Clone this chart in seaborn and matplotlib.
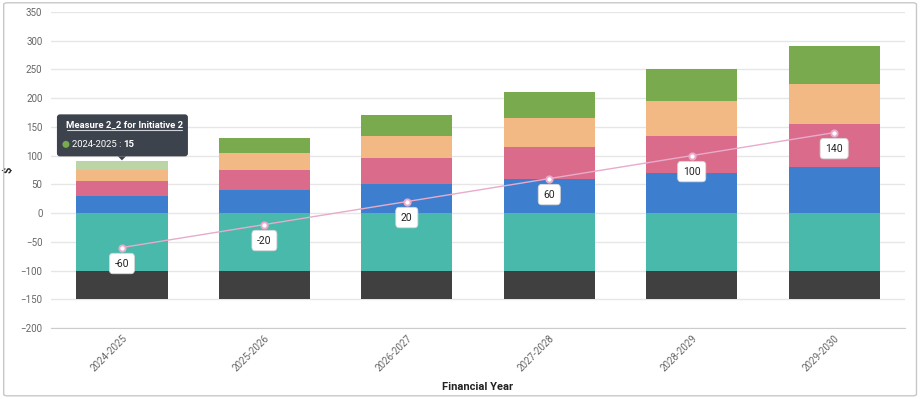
import numpy as np
import seaborn as sns
import matplotlib.pyplot as plt
from matplotlib.patches import FancyBboxPatch, Circle
from matplotlib.lines import Line2D
from matplotlib.transforms import IdentityTransform

sns.set_style("white")
plt.rcParams['font.family'] = ['Roboto', 'DejaVu Sans']

years = ['2024-2025', '2025-2026', '2026-2027', '2027-2028', '2028-2029', '2029-2030']
# positive stack, bottom to top
blue = [30, 40, 50, 60, 70, 80]
pink = [25, 35, 45, 55, 65, 75]
orange = [20, 30, 40, 50, 60, 70]
green = [15, 25, 35, 45, 55, 65]
# negative stack, top to bottom
teal = [-100, -100, -100, -100, -100, -100]
dark = [-50, -50, -50, -50, -50, -50]
net_total = [-60, -20, 20, 60, 100, 140]

c_blue, c_pink, c_orange, c_green = '#3d7ecf', '#db6b8b', '#f3b985', '#7aaa4e'
c_teal, c_dark = '#48b9ab', '#404040'
c_green_faded = '#bcd5a6'
c_line = '#e8abcb'

fig = plt.figure(figsize=(9.22, 3.99), dpi=100)
ax = fig.add_axes([0.055, 0.178, 0.927, 0.792])

pos_layers = [blue, pink, orange, green]
pos_cols = [c_blue, c_pink, c_orange, c_green]
cum_pos = np.cumsum(pos_layers, axis=0)
cum_neg = np.cumsum([teal, dark], axis=0)

# tallest first so shorter ones cover them
for k in range(3, -1, -1):
    if k == 3:
        sns.barplot(x=years, y=cum_pos[k], hue=years, legend=False, ax=ax, width=0.64,
                    palette=[c_green_faded] + [c_green] * 5, saturation=1, linewidth=0)
    else:
        sns.barplot(x=years, y=cum_pos[k], color=pos_cols[k], ax=ax, width=0.64,
                    saturation=1, linewidth=0)
sns.barplot(x=years, y=cum_neg[1], color=c_dark, ax=ax, width=0.64, saturation=1, linewidth=0)
sns.barplot(x=years, y=cum_neg[0], color=c_teal, ax=ax, width=0.64, saturation=1, linewidth=0)

sns.lineplot(x=np.arange(len(years)), y=net_total, ax=ax, color=c_line, lw=1,
             marker='o', markersize=4.5, markerfacecolor='white', markeredgecolor=c_line,
             markeredgewidth=1.4, zorder=5)
for i, v in enumerate(net_total):
    ax.annotate(str(v), (i, v), xytext=(0, -11.5), textcoords='offset points',
                ha='center', va='center', fontsize=7.5, color='#222222', zorder=6,
                bbox=dict(boxstyle='round,pad=0.5,rounding_size=0.35', fc='white',
                          ec='#d8d8d8', lw=0.6))

ax.set_ylim(-200, 350)
ax.set_xlim(-0.5, 5.5)
ax.set_yticks(np.arange(-200, 351, 50))
ax.yaxis.grid(True, color='#e6e6e6', lw=1)
ax.set_axisbelow(True)
for s in ['left', 'right', 'top']:
    ax.spines[s].set_visible(False)
ax.spines['bottom'].set_color('#cccccc')
ax.tick_params(axis='both', length=0, labelsize=7, labelcolor='#666666')
ax.tick_params(axis='y', pad=6)
plt.setp(ax.get_xticklabels(), rotation=45, ha='right', rotation_mode='anchor')
ax.set_xlabel('Financial Year', fontsize=8, fontweight='bold', color='#222222', labelpad=6)
ax.set_ylabel('$', fontsize=8, fontweight='bold', color='#222222')
ax.yaxis.set_label_coords(-0.043, 0.5)

# tooltip over the first bar
px, py = ax.transData.transform((0, cum_pos[3][0]))
ident = IdentityTransform()
tip = FancyBboxPatch((px - 65, py + 5), 131, 42, boxstyle='round,pad=0,rounding_size=3',
                     fc='#3d434d', ec='none', transform=ident, zorder=10)
fig.patches.append(tip)
fig.add_artist(plt.Polygon([[px - 4, py + 5], [px + 4, py + 5], [px, py + 1]],
                           closed=True, fc='#3d434d', ec='none', transform=ident, zorder=10))
fig.text(px + 3, py + 36, 'Measure 2_2 for Initiative 2', transform=ident, ha='center',
         va='center', fontsize=6.8, fontweight='bold', color='white', zorder=11)
fig.add_artist(Line2D([px - 55, px + 60], [py + 31, py + 31], transform=ident,
                      color='#cfd2d6', lw=0.8, zorder=11))
fig.add_artist(Circle((px - 56, py + 17), 3.5, transform=ident, fc=c_green, ec='none', zorder=11))
t1 = fig.text(px - 50, py + 17, '2024-2025 : ', transform=ident, ha='left', va='center',
              fontsize=6.8, color='white', zorder=11)
r = fig.canvas.get_renderer()
w = t1.get_window_extent(r).width
fig.text(px - 50 + w, py + 17, str(green[0]), transform=ident, ha='left', va='center',
         fontsize=6.8, fontweight='bold', color='white', zorder=11)

# outer card border
fig.patches.append(FancyBboxPatch((0.004, 0.008), 0.99, 0.985,
                                  boxstyle='round,pad=0,rounding_size=0.004',
                                  transform=fig.transFigure, fc='none', ec='#c8c8c8', lw=1))

fig.savefig('out.png', dpi=100)
